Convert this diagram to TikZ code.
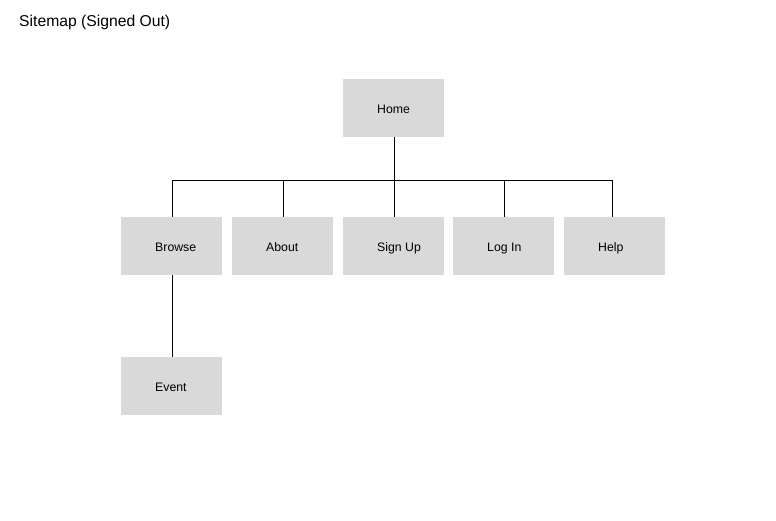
\documentclass[tikz,border=0pt]{standalone}
\usepackage{fontspec}
\setmainfont{Liberation Sans}
\definecolor{boxgray}{HTML}{D9D9D9}
\begin{document}
\begin{tikzpicture}[x=1pt,y=-1pt,
  pagebox/.style={fill=boxgray, draw=none, minimum width=101pt, minimum height=58pt, inner sep=0pt, anchor=north west},
  lbl/.style={anchor=base west, inner sep=0pt, font=\fontsize{12.3}{14}\selectfont},
  link/.style={draw=black, line width=1pt}]
\useasboundingbox[fill=white] (0,0) rectangle (776,520);
\node[anchor=base west, inner sep=0pt, font=\fontsize{15.7}{18}\selectfont] (title) at (19,26) {Sitemap (Signed Out)};
% boxes
\node[pagebox] (home) at (343,79) {};
\node[pagebox] (browse) at (121,217) {};
\node[pagebox] (about) at (232,217) {};
\node[pagebox] (signup) at (343,217) {};
\node[pagebox] (login) at (453,217) {};
\node[pagebox] (help) at (564,217) {};
\node[pagebox] (event) at (121,357) {};
% labels
\node[lbl] (homet) at ([xshift=34pt,yshift=-34pt]home.north west) {Home};
\node[lbl] (browset) at ([xshift=34pt,yshift=-34pt]browse.north west) {Browse};
\node[lbl] (aboutt) at ([xshift=34pt,yshift=-34pt]about.north west) {About};
\node[lbl] (signupt) at ([xshift=34pt,yshift=-34pt]signup.north west) {Sign Up};
\node[lbl] (logint) at ([xshift=34pt,yshift=-34pt]login.north west) {Log In};
\node[lbl] (helpt) at ([xshift=34pt,yshift=-34pt]help.north west) {Help};
\node[lbl] (eventt) at ([xshift=34pt,yshift=-34pt]event.north west) {Event};
% connectors
\coordinate (bus) at (394,180);
\draw[link] ([xshift=0.5pt]home.south) -- ([xshift=0.5pt]home.south |- bus);
\draw[link] ([xshift=0.5pt]browse.north |- bus) -- ([xshift=-2pt]help.north |- bus);
\draw[link] ([xshift=0.5pt]browse.north |- bus) -- ([xshift=0.5pt]browse.north);
\draw[link] ([xshift=1pt]about.north |- bus) -- ([xshift=1pt]about.north);
\draw[link] ([xshift=0.5pt]signup.north |- bus) -- ([xshift=0.5pt]signup.north);
\draw[link] ([xshift=0.5pt]login.north |- bus) -- ([xshift=0.5pt]login.north);
\draw[link] ([xshift=-2pt]help.north |- bus) -- ([xshift=-2pt]help.north);
\draw[link] ([xshift=0.5pt]browse.south) -- ([xshift=0.5pt]event.north);
\end{tikzpicture}
\end{document}
